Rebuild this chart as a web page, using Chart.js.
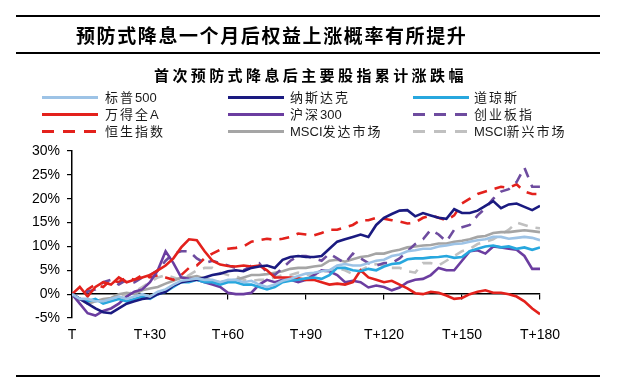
<!DOCTYPE html>
<html><head><meta charset="utf-8">
<script src="https://cdn.jsdelivr.net/npm/chart.js@4/dist/chart.umd.min.js"></script>
<style>
html,body{margin:0;padding:0;background:#fff;}
#page{position:relative;width:620px;height:392px;overflow:hidden;font-family:'Liberation Sans',Arial,'Noto Sans CJK SC',sans-serif;color:#000;}
#c{position:absolute;left:0;top:0;}
.rule{position:absolute;left:16px;width:584px;height:2px;background:#000;}
#head{position:absolute;left:76px;top:22px;font-family:'Noto Sans CJK SC',sans-serif;font-weight:700;font-size:19px;letter-spacing:1.6px;line-height:26px;white-space:nowrap;}
#ctitle{position:absolute;left:154px;top:65px;font-family:'Noto Sans CJK SC',sans-serif;font-weight:700;font-size:15px;letter-spacing:3.4px;line-height:20px;white-space:nowrap;}
.lg{position:absolute;height:17px;line-height:17px;font-size:13px;white-space:nowrap;color:#1a1a1a;}
.lg .cj{letter-spacing:2px;}
.sw{position:absolute;height:3px;width:56px;}
</style></head>
<body>
<div id="page">
  <canvas id="c" width="620" height="392"></canvas>
  <div class="rule" style="top:15px"></div>
  <div id="head">预防式降息一个月后权益上涨概率有所提升</div>
  <div class="rule" style="top:52px"></div>
  <div id="ctitle">首次预防式降息后主要股指累计涨跌幅</div>
  <div id="legend"></div>
  <div class="rule" style="top:375px"></div>
</div>
<script>
const days = [0,3,6,9,12,15,18,21,24,27,30,33,36,39,42,45,48,51,54,57,60,63,66,69,72,75,78,81,84,87,90,93,96,99,102,105,108,111,114,117,120,123,126,129,132,135,138,141,144,147,150,153,156,159,162,165,168,171,174,177,180];
const tickLabels = ['T','T+30','T+60','T+90','T+120','T+150','T+180'];
const seriesNames = ['标普500','纳斯达克','道琼斯','万得全A','沪深300','创业板指','恒生指数','MSCI发达市场','MSCI新兴市场'];

const sp500 = [0,-1.0,-1.0,-1.5,-1.5,-1.0,-0.5,-1.0,-0.5,0.0,-0.5,0.5,1.0,2.0,2.8,3.0,3.3,3.0,3.0,2.5,3.0,3.0,2.5,2.8,2.0,1.5,2.0,2.8,3.2,3.8,4.3,4.5,4.8,5.0,6.0,6.3,6.0,6.0,6.5,7.0,7.2,8.0,8.3,9.0,9.2,9.5,9.5,10.0,10.2,10.5,10.6,11.0,11.3,11.5,12.0,12.0,11.6,11.8,12.0,11.8,11.3];
const nasdaq = [0,-1.0,-2.0,-3.0,-3.8,-4.0,-3.0,-2.0,-1.5,-1.0,-0.8,0.0,0.5,1.8,2.5,2.8,3.0,3.5,4.0,4.3,4.8,5.0,4.8,5.5,5.8,6.0,5.5,7.2,7.8,8.0,7.8,7.8,8.0,9.5,11.0,11.5,12.0,12.5,12.0,14.5,16.0,16.8,17.5,17.6,16.3,17.0,16.5,16.0,15.8,17.8,17.0,17.0,17.5,18.5,19.5,18.0,18.8,19.0,18.3,17.6,18.5];
const dow = [0,-1.0,-1.5,-1.0,-2.0,-1.5,-1.0,-1.5,-1.0,-0.5,-1.0,0.0,0.5,1.5,2.5,2.5,3.0,2.5,2.5,2.0,2.5,2.5,2.0,2.0,1.5,1.0,1.5,2.5,2.8,3.0,3.3,3.5,3.2,4.0,5.5,5.5,5.0,4.8,5.3,5.0,5.8,6.3,6.5,7.3,7.5,7.5,7.7,7.8,8.0,7.6,7.8,9.0,9.5,10.0,10.2,9.8,10.0,9.5,9.8,9.3,9.8];
const windA = [0,1.5,-0.5,1.5,2.5,2.0,3.5,2.5,3.0,3.5,4.0,5.0,6.0,7.5,9.8,11.5,11.3,9.0,7.0,6.2,5.9,5.8,6.0,5.8,6.0,5.0,3.5,3.5,3.5,3.3,3.0,3.0,2.5,2.0,2.2,2.0,2.5,5.0,3.5,3.0,2.5,2.8,2.0,1.2,0.2,0.0,0.5,0.3,-0.3,-1.0,-0.8,0.0,0.5,0.8,0.3,0.3,0.0,-0.5,-1.5,-3.0,-4.2];
const csi300 = [0,-2.0,-4.0,-4.5,-3.5,-3.0,-2.0,-0.5,0.5,1.0,2.5,5.0,9.0,6.5,3.5,3.2,3.0,2.5,2.0,1.5,0.3,0.0,0.0,0.3,2.0,3.0,2.5,3.0,3.0,2.5,3.0,4.0,5.0,4.8,4.0,2.5,2.8,2.5,1.4,1.8,1.5,0.8,1.4,2.5,3.0,3.2,4.0,5.5,5.0,5.0,7.0,9.0,9.2,8.5,10.0,9.8,9.5,9.3,8.0,5.3,5.3];
const chinext = [0,-1.0,0.5,1.0,2.5,3.0,2.0,3.0,2.5,3.5,4.0,5.0,7.0,8.5,9.0,9.0,7.5,6.5,7.0,6.5,6.0,5.5,5.0,6.0,6.5,4.5,4.0,5.5,7.0,8.0,8.0,7.5,7.0,8.5,7.5,6.5,8.5,7.5,6.5,6.0,6.5,6.5,7.5,9.0,10.5,11.5,13.5,12.5,11.0,13.5,14.0,14.5,16.5,18.0,20.0,21.5,22.0,23.5,26.5,22.5,22.5];
const hsi = [0,-1.0,1.0,2.0,1.5,3.0,2.5,3.5,3.0,4.0,3.5,4.0,3.5,3.0,4.0,5.5,6.0,7.5,8.5,9.3,9.5,9.7,10.0,11.0,11.3,11.6,11.4,11.6,12.0,12.7,12.5,12.3,12.8,13.5,13.5,14.0,14.5,15.5,15.5,16.0,15.8,15.5,15.2,14.8,15.0,16.0,16.5,16.0,15.5,16.5,19.0,20.0,21.0,21.5,22.0,22.5,22.3,23.0,21.5,21.0,21.0];
const msciDM = [0,-1.0,-2.0,-1.5,-1.0,-0.8,0.0,0.3,0.0,0.8,1.2,1.5,2.2,2.8,3.5,3.5,3.8,3.3,2.8,2.5,2.8,3.0,3.5,4.0,4.0,4.2,4.5,4.8,5.3,5.5,5.5,5.8,6.0,7.0,7.2,6.8,7.3,7.8,8.0,8.5,8.5,9.0,9.3,9.8,10.0,10.2,10.3,10.6,10.6,11.0,11.2,11.5,12.0,12.2,12.8,13.0,13.0,13.2,13.4,13.2,13.0];
const msciEM = [0,-1.5,-2.0,-1.5,-1.5,-1.0,-0.5,0.0,0.5,1.5,2.5,3.5,4.0,3.5,3.0,4.0,5.0,5.5,5.5,4.5,4.0,3.8,3.0,2.8,3.0,3.0,3.5,4.0,4.0,4.5,4.0,4.0,4.5,5.0,5.5,5.0,4.2,5.0,5.8,6.3,6.0,5.5,5.5,4.8,4.5,6.5,6.5,6.0,7.0,8.0,9.0,9.5,10.5,11.0,11.5,12.5,13.5,15.0,14.5,14.0,13.8];

const seriesValues = [sp500, nasdaq, dow, windA, csi300, chinext, hsi, msciDM, msciEM];
const seriesColors = ['#9dc3e6','#1a1a80','#27a7de','#e3211c','#6b3da0','#6e4c9f','#e3211c','#a5a5a5','#c0c0c0'];
const seriesDashed = [false,false,false,false,false,true,true,false,true];

// HTML legend built from the series
const legendCols = [{line:42,text:105},{line:228,text:290},{line:413,text:474}];
const legendRows = [89,106,123];
const legendEl = document.getElementById('legend');
seriesNames.forEach((name,i)=>{
  const col = legendCols[i%3], row = legendRows[Math.floor(i/3)];
  const sw = document.createElement('div');
  sw.className='sw';
  sw.style.left = col.line+'px';
  sw.style.top = (row+7)+'px';
  sw.style.background = seriesDashed[i]
    ? `repeating-linear-gradient(to right, ${seriesColors[i]} 0 12px, transparent 12px 21px)`
    : seriesColors[i];
  legendEl.appendChild(sw);
  const t = document.createElement('div');
  t.className='lg';
  t.style.left = col.text+'px';
  t.style.top = row+'px';
  name.split(/([\u4e00-\u9fff]+)/).forEach(part=>{
    if (!part) return;
    const s = document.createElement('span');
    if (/[\u4e00-\u9fff]/.test(part)) s.className='cj';
    s.textContent = part;
    t.appendChild(s);
  });
  legendEl.appendChild(t);
});

const tickFont = {family:"'Liberation Sans', Arial, sans-serif", size:14};
new Chart(document.getElementById('c').getContext('2d'), {
  type:'line',
  data:{
    datasets: seriesNames.map((name,i)=>({
      label:name,
      data: days.map((d,j)=>({x:d, y:seriesValues[i][j]})),
      borderColor: seriesColors[i],
      backgroundColor: seriesColors[i],
      borderDash: seriesDashed[i] ? [10,8] : [],
      borderWidth: 2.6,
      pointRadius: 0,
      tension: 0,
      fill: false
    }))
  },
  options:{
    responsive:false,
    animation:false,
    devicePixelRatio:1,
    layout:{padding:{top:151,right:80,left:0,bottom:0}},
    plugins:{legend:{display:false}, tooltip:{enabled:false}, title:{display:false}},
    scales:{
      x:{
        type:'linear', min:0, max:180,
        afterFit:(s)=>{ s.height = 74; },
        ticks:{stepSize:30, autoSkip:false, maxRotation:0, padding:9, color:'#000', font:tickFont,
          callback:(v)=>tickLabels[Math.round(v/30)]},
        grid:{display:false, drawTicks:false},
        border:{display:false}
      },
      x0:{
        type:'linear', axis:'x', position:{y:0}, min:0, max:180,
        ticks:{display:false, stepSize:30},
        grid:{drawOnChartArea:false, drawTicks:true, tickLength:5, color:'#000', lineWidth:1.2},
        border:{display:true, color:'#000', width:1.5}
      },
      y:{
        min:-5, max:30,
        afterFit:(s)=>{ s.width = 72; },
        ticks:{stepSize:5, padding:7, color:'#000', font:tickFont, callback:(v)=>v+'%'},
        grid:{drawOnChartArea:false, drawTicks:true, tickLength:5, color:'#000', lineWidth:1.2},
        border:{display:true, color:'#000', width:1.5}
      }
    }
  }
});
</script>
</body></html>
